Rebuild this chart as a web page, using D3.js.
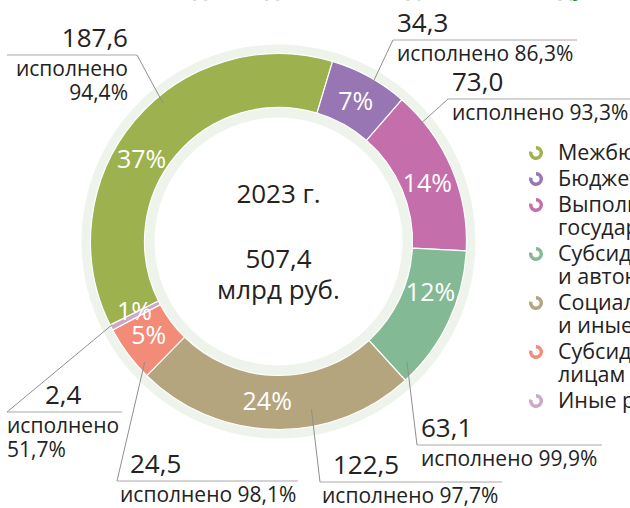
<!DOCTYPE html>
<html>
<head>
<meta charset="utf-8">
<script src="https://cdn.jsdelivr.net/npm/d3@7"></script>
<style>
  body { margin:0; background:#fff; overflow:hidden; }
  svg { display:block; font-family:"Open Sans", "Noto Sans", sans-serif; }
</style>
</head>
<body>
<div id="canvas"></div>
<script>
// data (млрд руб.)
var categories = ['Межбюджетные трансферты', 'Бюджетные инвестиции', 'Выполнение функций государственных органов',
  'Субсидии бюджетным и автономным учреждениям', 'Социальное обеспечение и иные выплаты населению',
  'Субсидии юридическим лицам', 'Иные расходы'];
var legendLines = [['Межбюджетные трансферты'], ['Бюджетные инвестиции'], ['Выполнение функций', 'государственных органов'],
  ['Субсидии бюджетным', 'и автономным учреждениям'], ['Социальное обеспечение', 'и иные выплаты населению'],
  ['Субсидии юридическим', 'лицам'], ['Иные расходы']];
var values = [187.6, 34.3, 73.0, 63.1, 122.5, 24.5, 2.4];
var shares = ['37%', '7%', '14%', '12%', '24%', '5%', '1%'];
var executed = ['94,4%', '86,3%', '93,3%', '99,9%', '97,7%', '98,1%', '51,7%'];
var colors = ['#9db24f', '#9876b4', '#c46eab', '#83ba95', '#b5a57f', '#f38b79', '#c9a8c8'];
var year = '2023 г.';
var total = '507,4';
var unit = 'млрд руб.';

var W = 630, H = 508;
var cx = 278.5, cy = 241.5;
var rOuter = 188, rInner = 134;
var startDeg = -116.4;

var svg = d3.select('#canvas').append('svg').attr('width', W).attr('height', H);

// title, almost entirely above the visible area
svg.append('text').attr('x', 128).attr('y', -4)
  .attr('font-size', 22).attr('font-weight', 700).attr('fill', '#3d7a2e')
  .text('Расходы бюджета по видам в 2023 году');

var g = svg.append('g').attr('transform', 'translate(' + cx + ',' + cy + ')');

// pale halo behind the ring
g.append('path')
  .attr('d', d3.arc().innerRadius(124).outerRadius(197).startAngle(0).endAngle(2 * Math.PI)())
  .attr('fill', '#eef4ec');

var rad = function(d){ return d * Math.PI / 180; };
var pie = d3.pie().sort(null).value(function(d){ return d; })
  .startAngle(rad(startDeg)).endAngle(rad(startDeg) + 2 * Math.PI);
var arcs = pie(values);
var arc = d3.arc().innerRadius(rInner).outerRadius(rOuter);

g.selectAll('path.slice').data(arcs).enter().append('path')
  .attr('class', 'slice')
  .attr('d', arc)
  .attr('fill', function(d, i){ return colors[i]; })
  .attr('stroke', '#fff').attr('stroke-width', 1.2);

// share labels
var shareNudge = [-9, 0, 1.5, -7, 3, 1, 1.5]; // degrees
g.selectAll('text.share').data(arcs).enter().append('text')
  .attr('class', 'share')
  .attr('transform', function(d, i){
    var a = (d.startAngle + d.endAngle) / 2 + rad(shareNudge[i]);
    return 'translate(' + (160 * Math.sin(a)) + ',' + (-160 * Math.cos(a)) + ')';
  })
  .attr('text-anchor', 'middle').attr('dy', '0.36em')
  .attr('font-size', 25).attr('fill', '#fff')
  .text(function(d, i){ return shares[i]; });

// centre text
var centre = g.append('g').attr('fill', '#222').attr('font-size', 26).attr('text-anchor', 'middle');
centre.append('text').attr('y', -39).text(year);
centre.append('text').attr('y', 26).text(total);
centre.append('text').attr('y', 57).text(unit);

// callouts: where the leader touches the slice (fraction of the slice, radius) and where the text sits
var callouts = [
  {f: 0.575, r: 180, ex: 137, ey: 55,  x1: 7,   x2: 137, anchor: 'end',   tx: 128, vx: 128, lines: ['исполнено', '94,4%']},
  {f: 0.58,  r: 181, ex: 393, ey: 40,  x1: 393, x2: 577, anchor: 'start', tx: 397, vx: 397, lines: null},
  {f: 0.18,  r: 184, ex: 448, ey: 99,  x1: 448, x2: 640, anchor: 'start', tx: 452, vx: 452, lines: null},
  {f: 0.9,   r: 176, ex: 417, ey: 445, x1: 417, x2: 602, anchor: 'start', tx: 421, vx: 421, lines: null},
  {f: 0.36,  r: 171, ex: 320, ey: 482, x1: 320, x2: 502, anchor: 'start', tx: 322, vx: 333, lines: null},
  {f: 0.2,   r: 180, ex: 117, ey: 481, x1: 117, x2: 298, anchor: 'start', tx: 120, vx: 130, lines: null},
  {f: 0.9,   r: 186, ex: 7,   ey: 412, x1: 7,   x2: 122, anchor: 'start', tx: 7,   vx: 45,  lines: ['исполнено', '51,7%']}
];

var fmt = function(v){ return d3.format('.1f')(v).replace('.', ','); };

callouts.forEach(function(c, i){
  var d = arcs[i];
  var a = d.startAngle + c.f * (d.endAngle - d.startAngle);
  var px = cx + c.r * Math.sin(a), py = cy - c.r * Math.cos(a);
  svg.append('line').attr('x1', px).attr('y1', py).attr('x2', c.ex).attr('y2', c.ey)
    .attr('stroke', '#8f8f8f').attr('stroke-width', 1);
  svg.append('line').attr('x1', c.x1).attr('y1', c.ey).attr('x2', c.x2).attr('y2', c.ey)
    .attr('stroke', '#a8a8a8').attr('stroke-width', 1);
  svg.append('text').attr('x', c.vx).attr('y', c.ey - 8)
    .attr('text-anchor', c.anchor).attr('font-size', 26).attr('fill', '#222')
    .text(fmt(values[i]));
  var lines = c.lines || ['исполнено ' + executed[i]];
  lines.forEach(function(t, k){
    svg.append('text').attr('x', c.tx).attr('y', c.ey + 21 + k * 24)
      .attr('text-anchor', c.anchor).attr('font-size', 21).attr('fill', '#222')
      .text(t);
  });
});

// legend
var mark = d3.arc().innerRadius(3.6).outerRadius(7).startAngle(0).endAngle(rad(285));
var ly = 160;
var legend = svg.append('g');
legendLines.forEach(function(lines, i){
  var item = legend.append('g').attr('transform', 'translate(536,' + ly + ')');
  item.append('path').attr('d', mark()).attr('transform', 'translate(0,-7)').attr('fill', colors[i]);
  lines.forEach(function(t, k){
    item.append('text').attr('x', 22).attr('y', k * 23)
      .attr('font-size', 21.5).attr('fill', '#222').text(t);
  });
  ly += 26 + (lines.length - 1) * 23;
});
</script>
</body>
</html>
